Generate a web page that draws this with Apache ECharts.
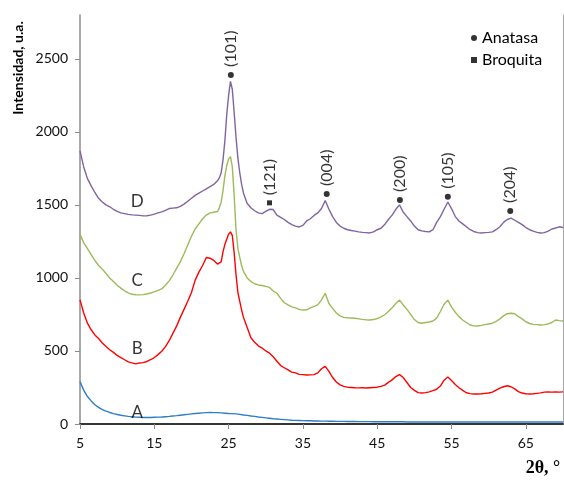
<!DOCTYPE html>
<html><head><meta charset="utf-8">
<script src="https://cdn.jsdelivr.net/npm/echarts@6/dist/echarts.min.js"></script>
<style>html,body{margin:0;padding:0;background:#fff}#c{width:564px;height:480px}</style>
</head><body><div id="c"></div>
<script>
// 2θ positions (degrees)
const twoTheta = [
  5,5.5,6,6.5,7,7.5,8,8.5,9,9.5,
  10,10.5,11,11.5,12,12.5,13,13.5,14,14.5,
  15,15.5,16,16.5,17,17.5,18,18.5,19,19.5,
  20,20.5,21,21.5,22,22.5,23,23.5,
  23.75,24,24.25,24.5,24.75,25,25.25,25.5,25.75,26,26.25,26.5,26.75,27,
  27.5,28,28.5,29,29.5,30,30.5,31,31.5,32,
  32.5,33,33.5,34,34.5,35,35.5,36,36.5,37,
  37.5,38,38.5,39,39.5,40,40.5,41,41.5,42,
  42.5,43,43.5,44,44.5,45,45.5,46,46.5,47,
  47.5,48,48.5,49,49.5,50,50.5,51,51.5,52,
  52.5,53,53.5,54,54.5,55,55.5,56,56.5,57,
  57.5,58,58.5,59,59.5,60,60.5,61,61.5,62,
  62.5,63,63.5,64,64.5,65,65.5,66,66.5,67,
  67.5,68,68.5,69,69.5,70
];
const sampleA = [
  290,232,188,158,132,114,99,88,79,71,
  65,60,56,52,50,47,46,44,44,45,
  46,47,48,50,52,55,57,60,63,66,
  69,72,74,76,78,79,78,78,
  77,76,75,74,73,72,72,71,70,69,68,66,64,62,
  59,55,52,48,45,42,39,36,34,32,
  30,28,26,25,24,23,22,22,21,21,
  20,20,19,19,18,18,18,17,17,17,
  16,16,16,16,15,15,15,15,15,15,
  15,15,15,14,14,14,14,14,14,14,
  14,14,14,14,14,14,14,14,14,14,
  14,14,14,14,14,14,14,14,14,14,
  14,14,14,14,14,14,14,14,14,14,
  14,14,14,14,14,14
];
const sampleB = [
  850,760,690,645,610,585,555,530,508,490,
  470,455,440,425,418,412,418,420,428,440,
  455,475,498,530,570,620,670,730,785,840,
  900,985,1040,1085,1140,1135,1120,1095,
  1085,1110,1180,1230,1265,1300,1315,1290,1170,1020,900,840,780,730,
  660,590,560,535,520,500,485,460,430,400,
  385,370,355,350,340,338,335,336,338,350,
  378,395,360,318,288,268,258,252,250,248,
  247,249,246,248,250,252,258,266,285,302,
  325,338,318,284,250,230,215,212,215,220,
  228,238,260,300,322,298,270,248,230,214,
  208,205,205,207,210,212,218,232,245,255,
  262,255,240,222,212,207,205,207,210,213,
  218,220,218,220,218,220
];
const sampleC = [
  1300,1240,1200,1160,1120,1085,1060,1030,1000,975,
  950,930,912,898,888,885,884,886,890,897,
  905,915,925,950,980,1020,1065,1110,1165,1225,
  1285,1335,1370,1405,1430,1445,1450,1455,
  1480,1520,1600,1700,1770,1815,1830,1760,1560,1330,1200,1140,1085,1045,
  1000,975,960,952,948,942,935,910,895,860,
  830,815,802,795,785,780,782,795,805,815,
  850,895,825,792,760,740,730,727,726,724,
  720,716,713,712,715,722,733,748,770,795,
  825,848,815,785,750,715,695,690,695,698,
  705,725,770,820,848,800,765,735,712,695,
  678,672,671,675,680,685,690,702,720,740,
  755,758,755,735,720,700,688,682,680,678,
  680,685,695,712,708,705
];
const sampleD = [
  1870,1760,1680,1630,1585,1545,1520,1500,1487,1470,
  1455,1445,1440,1435,1432,1430,1428,1425,1426,1430,
  1437,1445,1452,1462,1475,1478,1480,1490,1505,1525,
  1545,1565,1580,1595,1610,1625,1640,1665,
  1685,1720,1810,1940,2120,2250,2345,2290,2130,1960,1820,1720,1640,1580,
  1510,1480,1460,1445,1440,1455,1470,1468,1430,1415,
  1400,1380,1365,1355,1349,1360,1390,1405,1428,1445,
  1475,1530,1470,1420,1380,1355,1340,1330,1325,1320,
  1315,1312,1310,1308,1315,1330,1340,1365,1400,1430,
  1470,1500,1450,1420,1390,1355,1330,1322,1318,1315,
  1330,1380,1420,1470,1520,1475,1420,1390,1370,1350,
  1330,1318,1310,1308,1310,1312,1315,1330,1350,1380,
  1400,1410,1395,1380,1365,1345,1330,1320,1312,1308,
  1310,1320,1335,1342,1350,1345
];
const xTicks = [5,15,25,35,45,55,65];
const yTicks = [0,500,1000,1500,2000,2500];
const anatasePeaks = [[25.3,2390],[38.2,1575],[48.05,1534],[54.5,1555],[62.9,1459]];
const anataseLabels = ['(101)','(004)','(200)','(105)','(204)'];
const brookitePeaks = [[30.5,1514]];
const brookiteLabels = ['(121)'];
const curveNames = ['A','B','C','D'];
const curveLabelAt = [[12.7,82],[12.7,514],[12.7,980],[12.7,1520]];

const FONT = 'Lato';
const colors = {A:'#2e7ec7', B:'#ff0000', C:'#9bbb59', D:'#8064a2'};
const zip = v => twoTheta.map((t,i)=>[t,v[i]]);
const curves = {A:sampleA, B:sampleB, C:sampleC, D:sampleD};

const chart = echarts.init(document.getElementById('c'), null, {renderer:'canvas'});
const lineSeries = curveNames.map(n => ({
  name:n, type:'line', showSymbol:false, symbol:'none', data: zip(curves[n]),
  lineStyle:{color:colors[n], width:1.4}, itemStyle:{color:colors[n]}, z:2, silent:true
}));
const peakLabel = {show:true, position:'top', distance:5, rotate:90, align:'left', verticalAlign:'middle',
  formatter:'{b}', fontFamily:FONT, fontSize:16, color:'#000'};
chart.setOption({
  animation:false,
  backgroundColor:'#fff',
  grid:{left:80, right:1, top:15, bottom:56, containLabel:false},
  xAxis:[{type:'value', min:5, max:70, interval:10,
    axisLine:{lineStyle:{color:'#8c8c8c', width:1.5}},
    axisTick:{show:true, length:5, customValues:xTicks, lineStyle:{color:'#8c8c8c'}},
    axisLabel:{customValues:xTicks, margin:12, fontFamily:FONT, fontSize:14, color:'#111', formatter:v=>String(v)},
    splitLine:{show:false}},
   {type:'value', position:'top', min:5, max:70, axisLine:{show:true, lineStyle:{color:'#111', width:1.5}},
    axisTick:{show:false}, axisLabel:{show:false}, splitLine:{show:false}}],
  yAxis:[{type:'value', min:0, max:2800, interval:500,
    axisLine:{show:true, lineStyle:{color:'#8c8c8c', width:1.5}},
    axisTick:{show:true, length:5, customValues:yTicks, lineStyle:{color:'#8c8c8c'}},
    axisLabel:{customValues:yTicks, margin:12, fontFamily:FONT, fontSize:14, color:'#111', formatter:v=>String(v)},
    splitLine:{show:false}},
   {type:'value', position:'right', min:0, max:2800, axisLine:{show:true, lineStyle:{color:'#a6a6a6', width:1}},
    axisTick:{show:false}, axisLabel:{show:false}, splitLine:{show:false}}],
  legend:{orient:'vertical', left:466, top:25, itemWidth:6, itemHeight:6, itemGap:6,
    textStyle:{fontFamily:FONT, fontSize:16, color:'#000'},
    data:[{name:'Anatasa', icon:'circle'},{name:'Broquita', icon:'rect'}]},
  series:[
    ...lineSeries,
    {name:'Anatasa', type:'scatter', symbol:'circle', symbolSize:6, itemStyle:{color:'#000'}, z:5,
     data: anatasePeaks.map((p,i)=>({value:p, name:anataseLabels[i]})), label:peakLabel},
    {name:'Broquita', type:'scatter', symbol:'rect', symbolSize:5, itemStyle:{color:'#000'}, z:5,
     data: brookitePeaks.map((p,i)=>({value:p, name:brookiteLabels[i]})), label:peakLabel},
    {name:'curveLabels', type:'scatter', symbolSize:1, itemStyle:{color:'rgba(0,0,0,0)'}, z:5,
     data: curveNames.map((n,i)=>({value:curveLabelAt[i], name:n})),
     label:{show:true, position:'inside', formatter:'{b}', fontFamily:FONT, fontSize:17, color:'#000'}}
  ],
  graphic:[
    {type:'text', x:18, y:68, rotation:Math.PI/2,
     style:{text:'Intensidad, u.a.', fontFamily:FONT, fontWeight:'bold', fontSize:14, fill:'#000', align:'center', verticalAlign:'middle'}},
    {type:'text', x:543, y:468,
     style:{text:'2θ, °', fontFamily:'Liberation Serif', fontWeight:'bold', fontSize:18, fill:'#000', align:'center', verticalAlign:'middle'}}
  ]
});
</script></body></html>
